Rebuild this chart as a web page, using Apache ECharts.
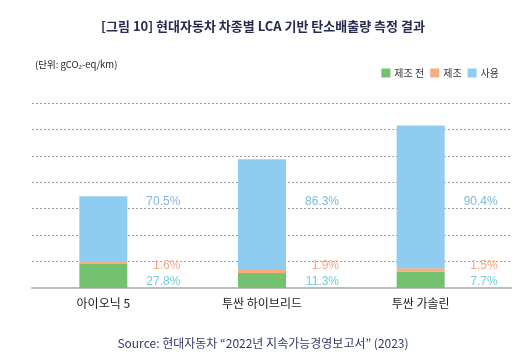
<!DOCTYPE html>
<html><head><meta charset="utf-8">
<script src="https://cdn.jsdelivr.net/npm/echarts@6/dist/echarts.min.js"></script>
<style>html,body{margin:0;padding:0;background:#fff}#c{width:526px;height:356px}</style>
</head><body><div id="c"></div>
<script>
const categories = ['아이오닉 5', '투싼 하이브리드', '투싼 가솔린'];
const seriesNames = ['제조 전', '제조', '사용'];
const preMfg = [9.1, 5.7, 6.2];
const mfg = [1.0, 1.1, 1.25];
const use = [24.6, 41.9, 54.0];
const prePct = ['27.8%', '11.3%', '7.7%'];
const mfgPct = ['1.6%', '1.9%', '1.5%'];
const usePct = ['70.5%', '86.3%', '90.4%'];

const FONT = "'Noto Sans CJK KR', 'Noto Sans', sans-serif";
const colors = ['#74C16F', '#F8AD7F', '#8FCDF0'];
const labelColors = ['#6FCFDD', '#F7A984', '#7FB9DB'];

const chart = echarts.init(document.getElementById('c'));
const option = {
  animation: false,
  textStyle: { fontFamily: FONT },
  title: [
    { text: '[그림 10] 현대자동차 차종별 LCA 기반 탄소배출량 측정 결과', left: 'center', top: 15,
      textStyle: { fontSize: 13, fontWeight: 'bold', color: '#262A50', fontFamily: FONT } },
    { text: '(단위: gCO₂-eq/km)', left: 30, top: 55,
      textStyle: { fontSize: 9.5, fontWeight: 'normal', color: '#222', fontFamily: FONT } },
    { text: 'Source: 현대자동차 “2022년 지속가능경영보고서” (2023)', left: 'center', top: 332,
      textStyle: { fontSize: 12, fontWeight: 'normal', color: '#2F3A6A', fontFamily: FONT } }
  ],
  legend: {
    right: 22, top: 63, itemWidth: 9, itemHeight: 9, itemGap: 6,
    icon: 'rect', data: seriesNames,
    textStyle: { fontSize: 10, color: '#333', fontFamily: FONT, padding: [0, 0, 0, -1] }
  },
  grid: [
    { left: 32, right: 15, top: 103, bottom: 68 },
    { left: 24, right: 26, top: 103, bottom: 68 }
  ],
  xAxis: [
    { gridIndex: 0, type: 'value', min: 0, max: 1, axisLabel: { show: false }, axisTick: { show: false },
      splitLine: { show: false }, axisLine: { show: true, onZero: false, lineStyle: { color: '#BDBDBD', width: 2 } } },
    { gridIndex: 1, type: 'category', data: categories, axisTick: { show: false }, axisLine: { show: false },
      axisLabel: { fontSize: 12, color: '#1A1A1A', margin: 9, fontFamily: FONT } }
  ],
  yAxis: [
    { gridIndex: 0, type: 'value', min: 0, max: 70, interval: 10, axisLabel: { show: false }, axisLine: { show: false },
      axisTick: { show: false }, splitLine: { show: true, lineStyle: { color: '#A0A0A0', type: [2, 2], width: 1 } } },
    { gridIndex: 1, type: 'value', min: 0, max: 70, interval: 10, show: false, splitLine: { show: false } }
  ],
  series: [
    { name: seriesNames[0], type: 'bar', stack: 't', xAxisIndex: 1, yAxisIndex: 1, barWidth: 48, data: preMfg, itemStyle: { color: colors[0] } },
    { name: seriesNames[1], type: 'bar', stack: 't', xAxisIndex: 1, yAxisIndex: 1, barWidth: 48, data: mfg, itemStyle: { color: colors[1] } },
    { name: seriesNames[2], type: 'bar', stack: 't', xAxisIndex: 1, yAxisIndex: 1, barWidth: 48, data: use, itemStyle: { color: colors[2] } }
  ]
};
chart.setOption(option);

const groups = [[usePct, 202, labelColors[2]], [mfgPct, 266, labelColors[1]], [prePct, 282, labelColors[0]]];
const elements = [];
categories.forEach((c, i) => {
  const px = chart.convertToPixel({ xAxisIndex: 1, yAxisIndex: 1 }, [i, 0]);
  groups.forEach(([arr, y, col]) => {
    elements.push({ type: 'text', x: px[0] + 77, y: y, style: { text: arr[i], fill: col, font: "12px 'Liberation Sans', Arial, sans-serif", align: 'right', verticalAlign: 'middle' } });
  });
});
chart.setOption({ graphic: elements });
</script></body></html>
